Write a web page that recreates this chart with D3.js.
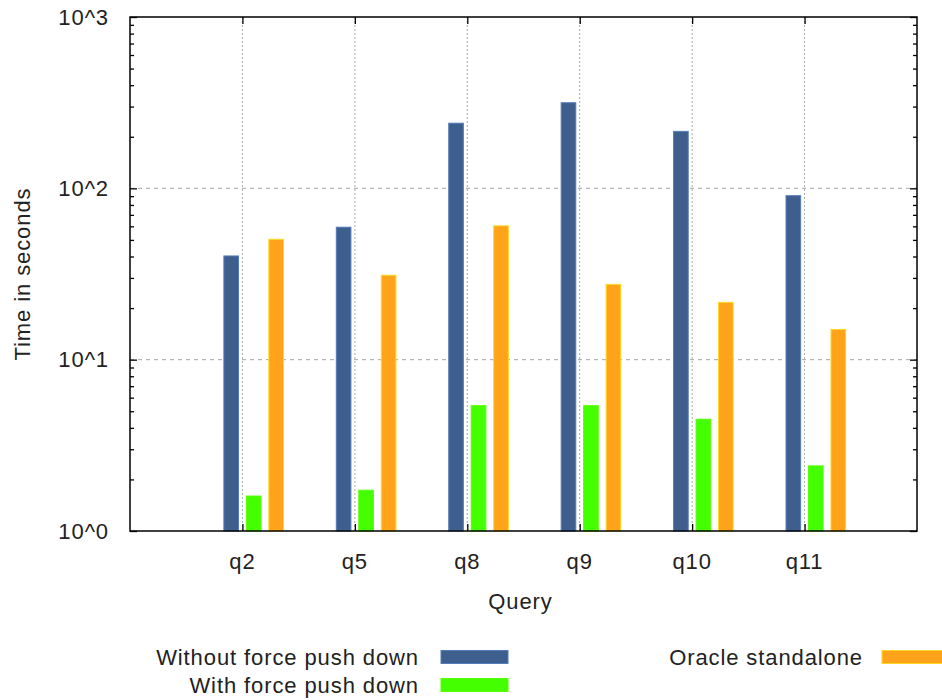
<!DOCTYPE html>
<html>
<head>
<meta charset="utf-8">
<script src="https://cdn.jsdelivr.net/npm/d3@7"></script>
<style>
  body { margin: 0; background: #fff; }
  text { font-family: "Liberation Sans", Arial, sans-serif; fill: #222; font-size: 22px; letter-spacing: 0.9px; }
</style>
</head>
<body>
<svg id="chart" width="942" height="700"></svg>
<script>
// Query timings (seconds), log-scale y axis
const queries = ["q2", "q5", "q8", "q9", "q10", "q11"];
const withoutPushDown = [40.3, 59.3, 240, 316, 215, 90.6];
const withPushDown = [1.6, 1.73, 5.39, 5.39, 4.49, 2.4];
const oracleStandalone = [50.4, 31.1, 60.4, 27.5, 21.6, 15.0];
const yTickValues = [1, 10, 100, 1000];
const yTickLabels = ["10^0", "10^1", "10^2", "10^3"];

const series = [
  { name: "Without force push down", values: withoutPushDown, color: "#3e5e8d", offset: -0.1 },
  { name: "With force push down", values: withPushDown, color: "#44ff00", offset: 0.1 },
  { name: "Oracle standalone", values: oracleStandalone, color: "#ffa31a", offset: 0.3 }
];

const svg = d3.select("#chart");
const plotLeft = 130, plotRight = 917, plotTop = 17, plotBottom = 531;

const x = d3.scaleLinear().domain([-1, 6]).range([plotLeft, plotRight]);
const y = d3.scaleLog().domain([1, 1000]).range([plotBottom, plotTop]);
const barW = x(0.13) - x(0);

// grid lines
const grid = svg.append("g");
queries.forEach((q, i) => {
  grid.append("line")
    .attr("x1", x(i)).attr("x2", x(i))
    .attr("y1", plotTop).attr("y2", plotBottom)
    .attr("stroke", "#a8a8a8").attr("stroke-width", 1)
    .attr("stroke-dasharray", "2,2");
});
yTickValues.slice(1, -1).forEach(v => {
  grid.append("line")
    .attr("x1", plotLeft).attr("x2", plotRight)
    .attr("y1", y(v)).attr("y2", y(v))
    .attr("stroke", "#a8a8a8").attr("stroke-width", 1)
    .attr("stroke-dasharray", "4,4");
});

// bars
series.forEach(s => {
  svg.append("g").selectAll("rect")
    .data(s.values)
    .join("rect")
    .attr("x", (d, i) => x(i + s.offset) - barW / 2)
    .attr("width", barW)
    .attr("y", d => y(d))
    .attr("height", d => y(1) - y(d))
    .attr("fill", s.color)
    .attr("stroke", d3.color(s.color).brighter(0.8))
    .attr("stroke-width", 1);
});

// axes with ticks pointing inward
const minorVals = [];
for (let e = 0; e < 3; e++) for (let m = 2; m <= 9; m++) minorVals.push(m * Math.pow(10, e));

const axisLeftMajor = d3.axisRight(y).tickValues(yTickValues).tickSize(7).tickFormat("");
const axisLeftMinor = d3.axisRight(y).tickValues(minorVals).tickSize(4).tickFormat("");
const axisRightMajor = d3.axisLeft(y).tickValues(yTickValues).tickSize(7).tickFormat("");
const axisRightMinor = d3.axisLeft(y).tickValues(minorVals).tickSize(4).tickFormat("");
const axisBottomTicks = d3.axisTop(x).tickValues(d3.range(queries.length)).tickSize(7).tickFormat("");
const axisTopTicks = d3.axisBottom(x).tickValues(d3.range(queries.length)).tickSize(7).tickFormat("");

function styleAxis(g) {
  g.select(".domain").remove();
  g.selectAll(".tick line").attr("stroke", "#000").attr("stroke-width", 1.3);
}
svg.append("g").attr("transform", `translate(${plotLeft},0)`).call(axisLeftMajor).call(styleAxis);
svg.append("g").attr("transform", `translate(${plotLeft},0)`).call(axisLeftMinor).call(styleAxis);
svg.append("g").attr("transform", `translate(${plotRight},0)`).call(axisRightMajor).call(styleAxis);
svg.append("g").attr("transform", `translate(${plotRight},0)`).call(axisRightMinor).call(styleAxis);
svg.append("g").attr("transform", `translate(0,${plotBottom})`).call(axisBottomTicks).call(styleAxis);
svg.append("g").attr("transform", `translate(0,${plotTop})`).call(axisTopTicks).call(styleAxis);

// border
svg.append("rect")
  .attr("x", plotLeft).attr("y", plotTop)
  .attr("width", plotRight - plotLeft).attr("height", plotBottom - plotTop)
  .attr("fill", "none").attr("stroke", "#000").attr("stroke-width", 1.5);

// tick labels
svg.append("g").selectAll("text")
  .data(yTickValues)
  .join("text")
  .attr("x", 109).attr("y", d => y(d))
  .attr("dy", "0.35em")
  .attr("text-anchor", "end")
  .text((d, i) => yTickLabels[i]);

svg.append("g").selectAll("text")
  .data(queries)
  .join("text")
  .attr("x", (d, i) => x(i)).attr("y", 561)
  .attr("dy", "0.35em")
  .attr("text-anchor", "middle")
  .text(d => d);

// axis titles
svg.append("text")
  .attr("x", x(2.5) - 3).attr("y", 601)
  .attr("dy", "0.35em")
  .attr("text-anchor", "middle")
  .text("Query");

svg.append("text")
  .attr("transform", `translate(22,${(plotTop + plotBottom) / 2}) rotate(-90)`)
  .attr("dy", "0.35em")
  .attr("text-anchor", "middle")
  .text("Time in seconds");

// legend
const legendPos = [
  { tx: 419, sx: 441, cy: 657 },
  { tx: 419, sx: 441, cy: 685 },
  { tx: 863, sx: 882, cy: 657 }
];
series.forEach((s, i) => {
  const p = legendPos[i];
  svg.append("text")
    .attr("x", p.tx).attr("y", p.cy)
    .attr("dy", "0.35em")
    .attr("text-anchor", "end")
    .text(s.name);
  svg.append("rect")
    .attr("x", p.sx).attr("y", p.cy - 6.5)
    .attr("width", 67).attr("height", 13)
    .attr("fill", s.color)
    .attr("stroke", d3.color(s.color).brighter(0.8))
    .attr("stroke-width", 1);
});
</script>
</body>
</html>
